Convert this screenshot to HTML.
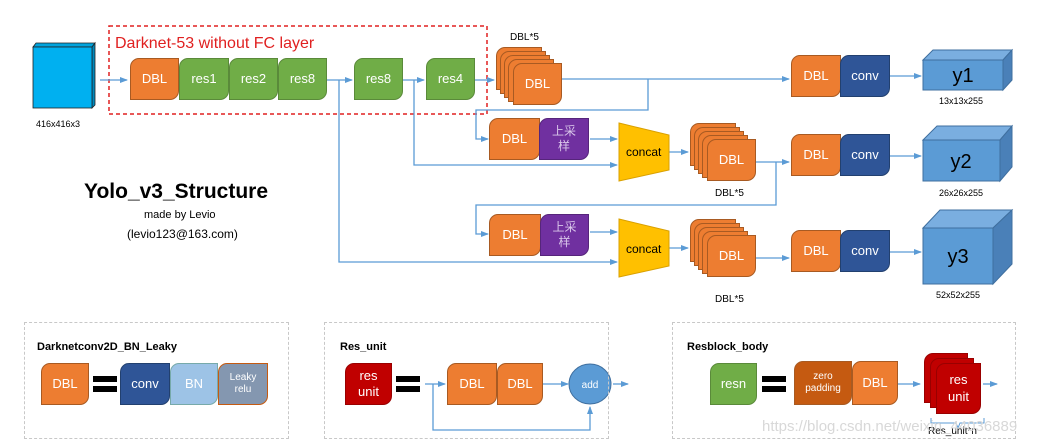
<!DOCTYPE html>
<html><head><meta charset="utf-8"><style>
body{margin:0;width:1045px;height:447px;background:#fff;position:relative;overflow:hidden;font-family:"Liberation Sans","Noto Sans CJK SC",sans-serif}
.b{position:absolute;border-radius:9px 0 9px 0;display:flex;align-items:center;justify-content:center;color:#fff;font-size:13px;box-sizing:border-box;border:1px solid #a85a22;text-align:center;line-height:1.25}
.o{background:#ed7d31}.g{background:#70ad47;border-color:#5a8a3a}.db{background:#2f5597;border-color:#22406f}.p{background:#7030a0;border-color:#56257b;color:#d9c6ea}.r{background:#c00000;border-color:#900}
.t{position:absolute;white-space:nowrap;color:#000}
.dash{position:absolute;border:1.5px dashed #c8c8c8;box-sizing:border-box}
.eq{position:absolute;width:24px;height:16px;border-top:6px solid #000;border-bottom:6px solid #000;box-sizing:border-box}
svg{position:absolute;left:0;top:0}
</style></head><body>
<svg width="1045" height="447">
<defs><marker id="a" markerWidth="8" markerHeight="8" refX="7" refY="4" orient="auto" markerUnits="userSpaceOnUse"><path d="M0,1 L8,4 L0,7z" fill="#5b9bd5"/></marker></defs>
<!-- input cube -->
<polygon points="33,47 36,43 95,43 92,47" fill="#00a3dd" stroke="#222" stroke-width="0.8"/>
<polygon points="92,47 95,43 95,105 92,108" fill="#0088bb" stroke="#222" stroke-width="0.8"/>
<rect x="33" y="47" width="59" height="61" fill="#00b0f0" stroke="#222" stroke-width="0.8"/>
<rect x="109" y="26" width="378" height="88" fill="none" stroke="#e02020" stroke-width="1.5" stroke-dasharray="4,3"/>
<g stroke="#5b9bd5" stroke-width="1.3" fill="none">
<path d="M100,80H127" marker-end="url(#a)"/>
<path d="M326,80H352" marker-end="url(#a)"/>
<path d="M403,80H424" marker-end="url(#a)"/>
<path d="M475,80H494" marker-end="url(#a)"/>
<path d="M339,80V262H617" marker-end="url(#a)"/>
<path d="M414,80V165H617" marker-end="url(#a)"/>
<path d="M562,79H789" marker-end="url(#a)"/>
<path d="M648,79V110H476V139H488" marker-end="url(#a)"/>
<path d="M590,139H617" marker-end="url(#a)"/>
<path d="M669,152H688" marker-end="url(#a)"/>
<path d="M756,162H789" marker-end="url(#a)"/>
<path d="M776,162V205H476V234H488" marker-end="url(#a)"/>
<path d="M590,232H617" marker-end="url(#a)"/>
<path d="M669,248H688" marker-end="url(#a)"/>
<path d="M756,258H789" marker-end="url(#a)"/>
<path d="M890,76H921" marker-end="url(#a)"/>
<path d="M890,156H921" marker-end="url(#a)"/>
<path d="M890,252H921" marker-end="url(#a)"/>
<path d="M425,384H445" marker-end="url(#a)"/>
<path d="M433,384V430H590V407" marker-end="url(#a)"/>
<path d="M543,384H568" marker-end="url(#a)"/>
<path d="M613,384H628" marker-end="url(#a)"/>
<path d="M898,384H920" marker-end="url(#a)"/>
<path d="M983,384H997" marker-end="url(#a)"/>
</g>
<!-- concat -->
<polygon points="619,123 669,135 669,170 619,181" fill="#ffc000" stroke="#d9a000"/>
<polygon points="619,219 669,231 669,266 619,277" fill="#ffc000" stroke="#d9a000"/>
<!-- output cubes -->
<g stroke="#3f6f9f" stroke-width="1">
<polygon points="923,60 933,50 1012,50 1003,60" fill="#7aaee0"/><polygon points="1003,60 1012,50 1012,80 1003,90" fill="#4a80b8"/><rect x="923" y="60" width="80" height="30" fill="#5b9bd5"/>
<polygon points="923,140 937,126 1012,126 1000,140" fill="#7aaee0"/><polygon points="1000,140 1012,126 1012,167 1000,181" fill="#4a80b8"/><rect x="923" y="140" width="77" height="41" fill="#5b9bd5"/>
<polygon points="923,228 940,210 1012,210 993,228" fill="#7aaee0"/><polygon points="993,228 1012,210 1012,264 993,284" fill="#4a80b8"/><rect x="923" y="228" width="70" height="56" fill="#5b9bd5"/>
</g>
<text x="963" y="82" font-size="20" text-anchor="middle" font-family="Liberation Sans">y1</text>
<text x="961" y="168" font-size="20" text-anchor="middle" font-family="Liberation Sans">y2</text>
<text x="958" y="263" font-size="20" text-anchor="middle" font-family="Liberation Sans">y3</text>
<ellipse cx="590" cy="384" rx="21" ry="20" fill="#5b9bd5" stroke="#3f6f9f"/>
<text x="590" y="388" font-size="10" fill="#fff" text-anchor="middle" font-family="Liberation Sans">add</text>
<path d="M931,418V423H956L958,428L960,423H984V418" stroke="#5b9bd5" fill="none"/>
</svg>
<div class="t" style="left:36px;top:119px;font-size:9px">416x416x3</div>
<div class="t" style="left:115px;top:35px;font-size:16px;color:#e02020">Darknet-53 without FC layer</div>
<div class="b o" style="left:130px;top:58px;width:49px;height:42px">DBL</div>
<div class="b g" style="left:179px;top:58px;width:50px;height:42px">res1</div>
<div class="b g" style="left:229px;top:58px;width:49px;height:42px">res2</div>
<div class="b g" style="left:278px;top:58px;width:49px;height:42px">res8</div>
<div class="b g" style="left:354px;top:58px;width:49px;height:42px">res8</div>
<div class="b g" style="left:426px;top:58px;width:49px;height:42px">res4</div>
<div class="t" style="left:510px;top:32px;font-size:10px">DBL*5</div>
<div class="b o" style="left:496px;top:47px;width:46px;height:43px"></div>
<div class="b o" style="left:500px;top:51px;width:46px;height:43px"></div>
<div class="b o" style="left:504px;top:55px;width:46px;height:43px"></div>
<div class="b o" style="left:508px;top:59px;width:46px;height:43px"></div>
<div class="b o" style="left:513px;top:63px;width:49px;height:42px">DBL</div>
<div class="b o" style="left:489px;top:118px;width:51px;height:42px">DBL</div>
<div class="b p" style="left:539px;top:118px;width:50px;height:42px;font-size:12px">上采<br>样</div>
<div class="b o" style="left:489px;top:214px;width:52px;height:42px">DBL</div>
<div class="b p" style="left:540px;top:214px;width:49px;height:42px;font-size:12px">上采<br>样</div>
<div class="t" style="left:626px;top:145px;font-size:12px">concat</div>
<div class="t" style="left:626px;top:242px;font-size:12px">concat</div>
<div class="b o" style="left:690px;top:123px;width:46px;height:43px"></div>
<div class="b o" style="left:694px;top:127px;width:46px;height:43px"></div>
<div class="b o" style="left:698px;top:131px;width:46px;height:43px"></div>
<div class="b o" style="left:702px;top:135px;width:46px;height:43px"></div>
<div class="b o" style="left:707px;top:139px;width:49px;height:42px">DBL</div>
<div class="t" style="left:715px;top:188px;font-size:10px">DBL*5</div>
<div class="b o" style="left:690px;top:219px;width:46px;height:43px"></div>
<div class="b o" style="left:694px;top:223px;width:46px;height:43px"></div>
<div class="b o" style="left:698px;top:227px;width:46px;height:43px"></div>
<div class="b o" style="left:702px;top:231px;width:46px;height:43px"></div>
<div class="b o" style="left:707px;top:235px;width:49px;height:42px">DBL</div>
<div class="t" style="left:715px;top:294px;font-size:10px">DBL*5</div>
<div class="b o" style="left:791px;top:55px;width:50px;height:42px">DBL</div>
<div class="b db" style="left:840px;top:55px;width:50px;height:42px">conv</div>
<div class="b o" style="left:791px;top:134px;width:50px;height:42px">DBL</div>
<div class="b db" style="left:840px;top:134px;width:50px;height:42px">conv</div>
<div class="b o" style="left:791px;top:230px;width:50px;height:42px">DBL</div>
<div class="b db" style="left:840px;top:230px;width:50px;height:42px">conv</div>
<div class="t" style="left:939px;top:96px;font-size:9px">13x13x255</div>
<div class="t" style="left:939px;top:188px;font-size:9px">26x26x255</div>
<div class="t" style="left:936px;top:290px;font-size:9px">52x52x255</div>
<div class="t" style="left:84px;top:180px;font-size:21px;font-weight:bold">Yolo_v3_Structure</div>
<div class="t" style="left:144px;top:209px;font-size:11px">made by Levio</div>
<div class="t" style="left:127px;top:227px;font-size:12px">(levio123@163.com)</div>
<div class="dash" style="left:24px;top:322px;width:265px;height:117px"></div>
<div class="dash" style="left:324px;top:322px;width:285px;height:117px"></div>
<div class="dash" style="left:672px;top:322px;width:344px;height:117px"></div>
<div class="t" style="left:37px;top:341px;font-size:11px;font-weight:bold">Darknetconv2D_BN_Leaky</div>
<div class="t" style="left:340px;top:341px;font-size:11px;font-weight:bold">Res_unit</div>
<div class="t" style="left:687px;top:341px;font-size:11px;font-weight:bold">Resblock_body</div>
<div class="b o" style="left:41px;top:363px;width:48px;height:42px">DBL</div>
<div class="eq" style="left:93px;top:376px"></div>
<div class="b db" style="left:120px;top:363px;width:50px;height:42px">conv</div>
<div class="b" style="left:170px;top:363px;width:48px;height:42px;background:#9dc3e6;border-color:#7aa"> BN</div>
<div class="b" style="left:218px;top:363px;width:50px;height:42px;background:#8497b0;border-color:#c55a11;font-size:10px">Leaky<br>relu</div>
<div class="b r" style="left:345px;top:363px;width:47px;height:42px">res<br>unit</div>
<div class="eq" style="left:396px;top:376px"></div>
<div class="b o" style="left:447px;top:363px;width:50px;height:42px">DBL</div>
<div class="b o" style="left:497px;top:363px;width:46px;height:42px">DBL</div>
<div class="b g" style="left:710px;top:363px;width:47px;height:42px">resn</div>
<div class="eq" style="left:762px;top:376px"></div>
<div class="b" style="left:794px;top:361px;width:58px;height:44px;background:#c55a11;font-size:10px">zero<br>padding</div>
<div class="b o" style="left:852px;top:361px;width:46px;height:44px">DBL</div>
<div class="b r" style="left:924px;top:353px;width:44px;height:50px"></div>
<div class="b r" style="left:930px;top:358px;width:44px;height:50px"></div>
<div class="b r" style="left:936px;top:363px;width:45px;height:51px">res<br>unit</div>
<div class="t" style="left:928px;top:426px;font-size:10px">Res_unit*n</div>
<div class="t" style="left:762px;top:418px;font-size:15px;color:#d8d8d8">https://blog.csdn.net/weixin_44036889</div>
</body></html>
